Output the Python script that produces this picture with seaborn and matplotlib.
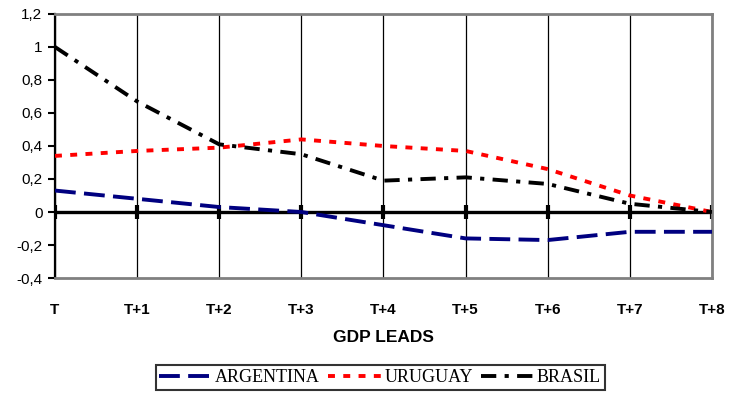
import matplotlib
matplotlib.use("Agg")
import matplotlib.pyplot as plt
import seaborn as sns
import pandas as pd
import numpy as np

# Cross-correlations with GDP leads
leads = ["T", "T+1", "T+2", "T+3", "T+4", "T+5", "T+6", "T+7", "T+8"]
argentina = [0.13, 0.08, 0.03, 0.00, -0.08, -0.16, -0.17, -0.12, -0.12]
uruguay = [0.34, 0.37, 0.39, 0.44, 0.40, 0.37, 0.26, 0.10, 0.00]
brasil = [1.00, 0.67, 0.41, 0.35, 0.19, 0.21, 0.17, 0.05, 0.00]
countries = ["ARGENTINA", "URUGUAY", "BRASIL"]
y_ticks = [-0.4, -0.2, 0, 0.2, 0.4, 0.6, 0.8, 1.0, 1.2]
y_labels = ["-0,4", "-0,2", "0", "0,2", "0,4", "0,6", "0,8", "1", "1,2"]

sns.set_theme(style="white", rc={"text.color": "black",
                                 "axes.labelcolor": "black",
                                 "xtick.color": "black",
                                 "ytick.color": "black"})
plt.rcParams["font.family"] = ["Liberation Sans", "DejaVu Sans"]
plt.rcParams["lines.scale_dashes"] = False
plt.rcParams["lines.dash_capstyle"] = "butt"

pos = np.arange(len(leads))
df = pd.DataFrame({
    "pos": np.tile(pos, 3),
    "value": argentina + uruguay + brasil,
    "country": np.repeat(countries, len(leads)),
})

fig = plt.figure(figsize=(7.31, 3.94), dpi=100)
ax = fig.add_axes([0.0752, 0.2944, 0.8988, 0.6701])

palette = {"ARGENTINA": "#000080", "URUGUAY": "#ff0000", "BRASIL": "#000000"}
dashes = {"ARGENTINA": (15, 6), "URUGUAY": (5, 6), "BRASIL": (11, 6, 3, 6)}

# zero reference line with category marks
ax.axhline(0, color="black", lw=2.4, zorder=2)
ax.plot(pos, np.zeros(len(pos)), ls="none", marker="|", ms=10, mew=3,
        color="black", zorder=2)

sns.lineplot(data=df, x="pos", y="value", hue="country", style="country",
             palette=palette, dashes=dashes, linewidth=2.8, ax=ax,
             legend=False, zorder=3)

ax.set_xlim(0, len(leads) - 1)
ax.set_ylim(-0.4, 1.2)
ax.set_xticks(pos)
ax.set_xticklabels(leads, fontweight="bold", fontsize=11)
ax.set_yticks(y_ticks)
ax.set_yticklabels(y_labels, fontsize=11)
ax.tick_params(axis="x", length=0, pad=18)
ax.tick_params(axis="y", length=5, width=1.5, direction="out", pad=4,
               left=True, color="black")
ax.set_xlabel("GDP LEADS", fontweight="bold", fontsize=12.5, labelpad=9)
ax.set_ylabel("")

ax.xaxis.grid(True, color="black", lw=0.9)
ax.yaxis.grid(False)
for side in ["top", "bottom", "right"]:
    ax.spines[side].set_color("#808080")
    ax.spines[side].set_linewidth(2)
ax.spines["left"].set_color("black")
ax.spines["left"].set_linewidth(1.6)

handles = ax.get_lines()[2:5]
leg = fig.legend(handles, countries, loc="center", bbox_to_anchor=(0.52, 0.042),
                 ncol=3, frameon=True, fancybox=False, handlelength=2.9,
                 handletextpad=0.2, columnspacing=0.45, borderpad=0.2,
                 prop={"family": ["Liberation Serif"], "size": 13})
leg.get_frame().set_edgecolor("black")
leg.get_frame().set_linewidth(1.5)

fig.savefig("out.png", dpi=100)
